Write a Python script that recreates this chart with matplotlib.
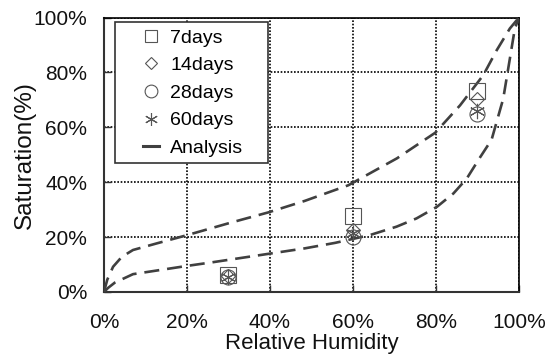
import matplotlib
matplotlib.use("Agg")
import matplotlib.pyplot as plt
from matplotlib.lines import Line2D
from matplotlib.patches import Rectangle
from matplotlib.ticker import PercentFormatter

# --- measured saturation (%) vs relative humidity (%) ---
rh_test = [30, 60, 90]
sat_7days = [6.2, 27.7, 73.2]
sat_14days = [6.0, 22.5, 70.4]
sat_28days = [5.5, 20.0, 65.0]
sat_60days = [5.6, 21.4, 66.0]

# --- analysis curves (upper / lower bound) ---
rh_upper = [0, 0.8, 2.2, 4.3, 7, 12.7, 20, 30.4, 39.6, 48.4, 58.9, 70.6, 79.8, 85.8, 91.4, 94.6, 97.8, 100]
sat_upper = [0, 4.5, 9.2, 12.8, 15.3, 17.7, 20.7, 25.2, 29.0, 33.2, 38.9, 48.7, 58.0, 68.0, 79.0, 88.0, 96.0, 100]
rh_lower = [0, 1, 2.6, 7, 20, 26, 48.4, 55.7, 64, 70.5, 75.3, 80.2, 84.2, 87.4, 90.6, 93.4, 96.2, 97.8, 99, 100]
sat_lower = [0, 1.5, 3.4, 6.5, 9.5, 10.8, 15.9, 17.9, 20.7, 23.8, 26.8, 31.0, 35.9, 41.3, 49.0, 55.5, 70.4, 85.0, 96.0, 100]

ticks = [0, 20, 40, 60, 80, 100]

mk_color = "#555555"
line_color = "#404040"
font = ["Liberation Sans", "DejaVu Sans"]

fig = plt.figure(figsize=(5.53, 3.56), dpi=100)
ax = fig.add_axes([0.188, 0.1798, 0.7505, 0.771])

# analysis curves
dash = (0, (5.7, 3.0))
ax.plot(rh_upper, sat_upper, color=line_color, lw=1.9, linestyle=dash, zorder=3)
ax.plot(rh_lower, sat_lower, color=line_color, lw=1.9, linestyle=dash, zorder=3)

# test results
series = [
    (sat_7days, "s", 11, "7days"),
    (sat_14days, "D", 7.2, "14days"),
    (sat_28days, "o", 10.8, "28days"),
    (sat_60days, (6, 2, 0), 11, "60days"),
]
for vals, mk, ms, name in series:
    ax.plot(rh_test, vals, linestyle="none", marker=mk, ms=ms, mfc="none",
            mec=mk_color, mew=0.8, zorder=4)

ax.set_xlim(0, 100)
ax.set_ylim(0, 100)
ax.set_xticks(ticks)
ax.set_yticks(ticks)
ax.xaxis.set_major_formatter(PercentFormatter(decimals=0))
ax.yaxis.set_major_formatter(PercentFormatter(decimals=0))

# dotted grid
ax.grid(True, color="black", linestyle=(0, (1, 1)), linewidth=1.2)
ax.set_axisbelow(True)

for side in ["left", "bottom"]:
    ax.spines[side].set_color("#333333")
    ax.spines[side].set_linewidth(1.5)
for side in ["top", "right"]:
    ax.spines[side].set_color("black")
    ax.spines[side].set_linestyle((0, (1, 1)))
    ax.spines[side].set_linewidth(1.2)

ax.tick_params(axis="both", direction="in", length=5, width=1, color="#333333")
ax.tick_params(axis="x", pad=15)
ax.tick_params(axis="y", pad=12)
for lab in ax.get_xticklabels() + ax.get_yticklabels():
    lab.set_family(font)
    lab.set_fontsize(15)
    lab.set_color("#111111")

ax.set_xlabel("Relative Humidity", family=font, fontsize=16, color="#111111")
ax.set_ylabel("Saturation(%)", family=font, fontsize=17.5, color="#111111")
ax.xaxis.set_label_coords(0.5, -0.150)
ax.yaxis.set_label_coords(-0.163, 0.5)

# legend box
ax.add_patch(Rectangle((0.0265, 0.469), 0.3685, 0.513, transform=ax.transAxes,
                       facecolor="white", edgecolor="#333333", lw=1.2, zorder=5))
handles = [Line2D([], [], linestyle="none", marker=mk, ms=ms * 0.85, mfc="none",
                  mec=mk_color, mew=0.8) for _, mk, ms, _ in series]
handles.append(Line2D([], [], color=line_color, lw=2.2))
labels = [s[3] for s in series] + ["Analysis"]
leg = ax.legend(handles, labels, loc="center", bbox_to_anchor=(0.215, 0.725),
                frameon=False, prop={"family": font, "size": 14},
                handlelength=0.8, handletextpad=0.6, labelspacing=0.51,
                borderpad=0.2)
leg.set_zorder(6)

fig.savefig("out.png", dpi=100)
